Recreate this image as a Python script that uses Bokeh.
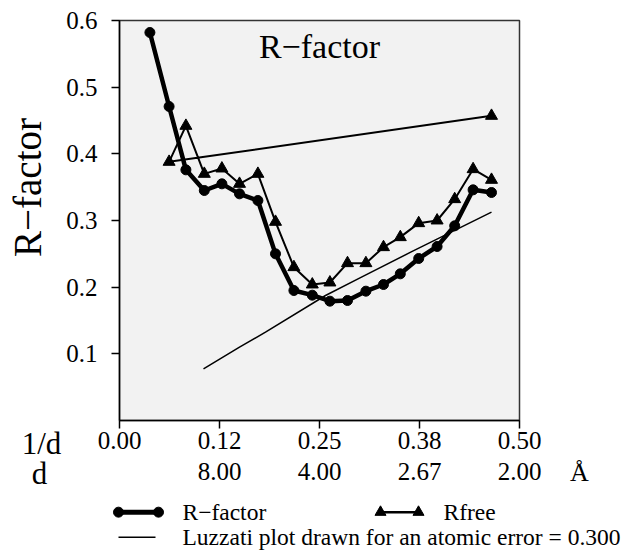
import math
from bokeh.plotting import figure
from bokeh.models import Range1d, FixedTicker, LinearAxis, Label
from bokeh.embed import file_html
from bokeh.resources import INLINE
from bokeh.core.properties import value

# ---- data ----
inv_d = [0.038, 0.062, 0.083, 0.106, 0.128, 0.150, 0.173, 0.195, 0.218, 0.241,
         0.263, 0.285, 0.308, 0.330, 0.351, 0.374, 0.397, 0.419, 0.442, 0.465]
r_factor = [0.582, 0.471, 0.376, 0.345, 0.355, 0.340, 0.330, 0.250, 0.195, 0.188,
            0.179, 0.180, 0.194, 0.204, 0.220, 0.243, 0.261, 0.292, 0.346, 0.342]

rfree_x = [0.465, 0.062, 0.083, 0.106, 0.128, 0.150, 0.173, 0.195, 0.218, 0.241,
           0.263, 0.285, 0.308, 0.330, 0.351, 0.374, 0.397, 0.419, 0.442, 0.465]
rfree_y = [0.457, 0.388, 0.442, 0.370, 0.378, 0.355, 0.370, 0.298, 0.230, 0.204,
           0.207, 0.236, 0.236, 0.260, 0.275, 0.296, 0.300, 0.332, 0.377, 0.361]

luzzati_x = [0.105, 0.150, 0.1825, 0.2575, 0.300, 0.364, 0.400, 0.465]
luzzati_y = [0.0775, 0.110, 0.1325, 0.1875, 0.2135, 0.2525, 0.274, 0.3125]

x_ticks = [0.0, 0.125, 0.25, 0.375, 0.5]
x_tick_labels = ["0.00", "0.12", "0.25", "0.38", "0.50"]
d_ticks = [0.125, 0.25, 0.375, 0.5]
d_tick_labels = ["8.00", "4.00", "2.67", "2.00"]
y_ticks = [0.1, 0.2, 0.3, 0.4, 0.5, 0.6]
y_bounds = (0.0, 0.6)

title_text = "R\u2212factor"
y_label_text = "R\u2212factor"
legend_labels = ["R\u2212factor", "Rfree", "Luzzati plot drawn for an atomic error = 0.300"]

FONT = "Liberation Serif"

# canvas 635 x 550; data 0..0.5 spans 400 px, 0..0.6 spans 400 px
W, H = 635, 550
PX_X = 800.0
PX_Y = 400.0 / 0.6
x0 = -119 / PX_X
y1 = 0.6 + 20 / PX_Y
p = figure(width=W, height=H,
           x_range=Range1d(x0, x0 + W / PX_X), y_range=Range1d(y1 - H / PX_Y, y1),
           output_backend="svg", toolbar_location=None,
           x_axis_location=None, y_axis_location=None,
           min_border_left=0, min_border_right=0, min_border_top=0, min_border_bottom=0)
p.background_fill_color = "white"
p.border_fill_color = "white"
p.outline_line_color = None
p.grid.visible = False

# plot box
p.quad(left=[x_ticks[0]], right=[x_ticks[-1]], bottom=[y_bounds[0]], top=[y_bounds[1]],
       fill_color="#f2f2f2", line_color="#333333", line_width=1.5)

# x axis (1/d)
xa = LinearAxis(ticker=FixedTicker(ticks=x_ticks), fixed_location=0.0,
                bounds=(x_ticks[0], x_ticks[-1]))
xa.major_label_overrides = {t: s for t, s in zip(x_ticks, x_tick_labels)}
xa.minor_tick_line_color = None
xa.major_tick_out = 8
xa.major_tick_in = 0
xa.major_tick_line_width = 1.5
xa.axis_line_width = 1.5
xa.major_label_standoff = 3
xa.major_label_text_font = FONT
xa.major_label_text_font_size = "25px"
xa.major_label_text_color = "black"
p.add_layout(xa, "below")

# second x axis (d)
da = LinearAxis(ticker=FixedTicker(ticks=d_ticks), fixed_location=0.0,
                bounds=(x_ticks[0], x_ticks[-1]))
da.major_label_overrides = {t: s for t, s in zip(d_ticks, d_tick_labels)}
da.axis_line_color = None
da.major_tick_line_color = None
da.minor_tick_line_color = None
da.major_tick_out = 0
da.major_tick_in = 0
da.major_label_standoff = 42
da.major_label_text_font = FONT
da.major_label_text_font_size = "25px"
da.major_label_text_color = "black"
p.add_layout(da, "below")

# y axis
ya = LinearAxis(ticker=FixedTicker(ticks=y_ticks), fixed_location=0.0, bounds=y_bounds)
ya.minor_tick_line_color = None
ya.major_tick_out = 8
ya.major_tick_in = 0
ya.major_tick_line_width = 1.5
ya.axis_line_width = 1.5
ya.major_label_standoff = 14
ya.major_label_text_font = FONT
ya.major_label_text_font_size = "25px"
ya.major_label_text_color = "black"
p.add_layout(ya, "left")

# series
p.line(luzzati_x, luzzati_y, line_color="black", line_width=1.5)
p.line(rfree_x, rfree_y, line_color="black", line_width=2)
p.scatter(rfree_x, rfree_y, marker="triangle", size=12, color="black")
p.line(inv_d, r_factor, line_color="black", line_width=4.5)
p.scatter(inv_d, r_factor, marker="circle", size=10, color="black")

# texts
p.add_layout(Label(x=0.25, y=0.5605, text=title_text, text_font=FONT, text_font_size="34px",
                   text_align="center", text_baseline="alphabetic", text_color="black"))
p.add_layout(Label(x=-0.1154, y=0.3495, text=y_label_text, text_font=FONT, text_font_size="39px",
                   angle=math.pi / 2, text_align="center", text_baseline="alphabetic",
                   text_color="black"))
p.add_layout(Label(x=-0.0975, y=-0.0348, text="1/d", text_font=FONT, text_font_size="31px",
                   text_align="center", text_baseline="alphabetic", text_color="black"))
p.add_layout(Label(x=-0.10, y=-0.0795, text="d", text_font=FONT, text_font_size="31px",
                   text_align="center", text_baseline="alphabetic", text_color="black"))
p.add_layout(Label(x=0.575, y=-0.078, text="\u00c5", text_font=FONT, text_font_size="26px",
                   text_align="center", text_baseline="alphabetic", text_color="black"))

# legend (drawn below the axes)
leg_row_y = [-0.1375, -0.175]
leg_rf_x = [-0.00125, 0.04875]
leg_rfree_x = [0.32625, 0.37375]
leg_lz_x = [-0.00125, 0.045]
leg_text_x = [0.07875, 0.405, 0.07875]

p.line(leg_rf_x, [leg_row_y[0]] * 2, line_color="black", line_width=5)
p.scatter(leg_rf_x, [leg_row_y[0]] * 2, marker="circle", size=10, color="black")
p.line(leg_rfree_x, [leg_row_y[0]] * 2, line_color="black", line_width=2.5)
p.scatter(leg_rfree_x, [leg_row_y[0]] * 2, marker="triangle", size=11, color="black")
p.line(leg_lz_x, [leg_row_y[1]] * 2, line_color="black", line_width=1.5)
p.text(x=leg_text_x, y=[leg_row_y[0], leg_row_y[0], leg_row_y[1]], text=legend_labels,
       text_font=value(FONT), text_font_size="23.5px", text_baseline="middle",
       text_align="left", text_color="black")

open("out.html", "w").write(file_html(p, INLINE))
